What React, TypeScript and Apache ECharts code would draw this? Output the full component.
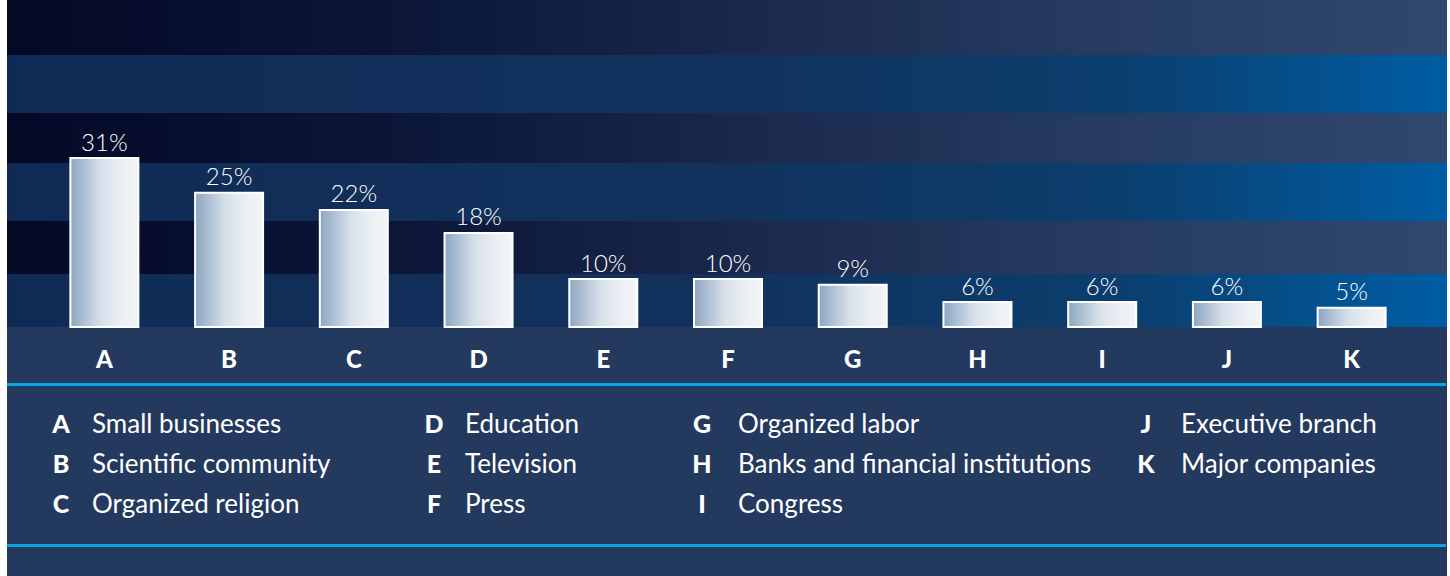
import React, { useEffect, useRef } from 'react';
import * as echarts from 'echarts';

// ---- data ----
const categories = ['A', 'B', 'C', 'D', 'E', 'F', 'G', 'H', 'I', 'J', 'K'];
const values = [31, 25, 22, 18, 10, 10, 9, 6, 6, 6, 5];
const names = [
  'Small businesses',
  'Scientific community',
  'Organized religion',
  'Education',
  'Television',
  'Press',
  'Organized labor',
  'Banks and financial institutions',
  'Congress',
  'Executive branch',
  'Major companies',
];

const FONT = 'Lato, "Open Sans", "Noto Sans", sans-serif';

export default function App() {
  const ref = useRef<HTMLDivElement>(null);

  useEffect(() => {
    if (!ref.current) return;
    const chart = echarts.init(ref.current, null, { renderer: 'svg' });

    const L = 7;
    const R = 1447;
    const W = R - L;

    const darkGrad = () =>
      new echarts.graphic.LinearGradient(0, 0, 1, 0, [
        { offset: 0, color: '#040926' },
        { offset: 0.25, color: '#0a1536' },
        { offset: 0.5, color: '#19274a' },
        { offset: 0.75, color: '#273b61' },
        { offset: 1, color: '#30476e' },
      ]);
    const blueGrad = () =>
      new echarts.graphic.LinearGradient(0, 0, 1, 0, [
        { offset: 0, color: '#0f2b55' },
        { offset: 0.5, color: '#12325d' },
        { offset: 0.77, color: '#0b3e6d' },
        { offset: 1, color: '#005da3' },
      ]);

    const bands: [number, number, string][] = [
      [0, 55, 'd'],
      [55, 113, 'b'],
      [113, 163, 'd'],
      [163, 221, 'b'],
      [221, 274, 'd'],
      [274, 327, 'b'],
    ];

    const graphics: any[] = [];
    // lower panel
    graphics.push({
      type: 'rect',
      z: -10,
      shape: { x: L, y: 327, width: W, height: 576 - 327 },
      style: { fill: '#24395e' },
      silent: true,
    });
    bands.forEach(([y0, y1, t]) => {
      graphics.push({
        type: 'rect',
        z: -10,
        shape: { x: L, y: y0, width: W, height: y1 - y0 },
        style: { fill: t === 'd' ? darkGrad() : blueGrad() },
        silent: true,
      });
    });
    // cyan rules
    [383, 544].forEach((y) => {
      graphics.push({
        type: 'rect',
        z: -5,
        shape: { x: L, y, width: W - 1, height: 3 },
        style: { fill: '#0aa6e3' },
        silent: true,
      });
    });

    // legend
    const letterCenters = [61, 434, 702, 1146];
    const textLefts = [92, 465, 738, 1181];
    const rowYs = [423, 463, 503];
    categories.forEach((c, i) => {
      const col = Math.floor(i / 3);
      const row = i % 3;
      graphics.push({
        type: 'text',
        x: letterCenters[col],
        y: rowYs[row],
        style: {
          text: c,
          fill: '#ffffff',
          font: `900 25px ${FONT}`,
          align: 'center',
          verticalAlign: 'middle',
        },
      });
      graphics.push({
        type: 'text',
        x: textLefts[col],
        y: rowYs[row],
        style: {
          text: names[i],
          fill: '#ffffff',
          font: `normal 26px ${FONT}`,
          align: 'left',
          verticalAlign: 'middle',
        },
      });
    });

    const option: any = {
      animation: false,
      grid: { left: 42, right: 36, top: 39, bottom: 249, containLabel: false },
      xAxis: {
        type: 'category',
        data: categories,
        axisLine: { show: false },
        axisTick: { show: false },
        splitLine: { show: false },
        axisLabel: {
          color: '#ffffff',
          fontFamily: FONT,
          fontWeight: 900,
          fontSize: 24,
          margin: 31,
          verticalAlign: 'middle',
        },
      },
      yAxis: {
        type: 'value',
        min: 1.5,
        max: 51.5,
        show: false,
        splitLine: { show: false },
      },
      series: [
        {
          type: 'bar',
          data: values,
          barWidth: 70,
          itemStyle: {
            color: new echarts.graphic.LinearGradient(0, 0, 1, 0, [
              { offset: 0, color: '#8ca6c1' },
              { offset: 0.45, color: '#d6e0ea' },
              { offset: 0.75, color: '#ebeff3' },
              { offset: 1, color: '#f2f5f7' },
            ]),
            borderColor: '#ffffff',
            borderWidth: 2,
          },
          label: {
            show: true,
            position: 'top',
            distance: 4,
            formatter: '{c}%',
            color: '#ffffff',
            fontFamily: FONT,
            fontWeight: 300,
            fontSize: 24,
          },
        },
      ],
      graphic: { elements: graphics },
    };

    chart.setOption(option);
    return () => chart.dispose();
  }, []);

  return (
    <div
      ref={ref}
      style={{ position: 'absolute', left: 0, top: 0, width: 1450, height: 576 }}
    />
  );
}
